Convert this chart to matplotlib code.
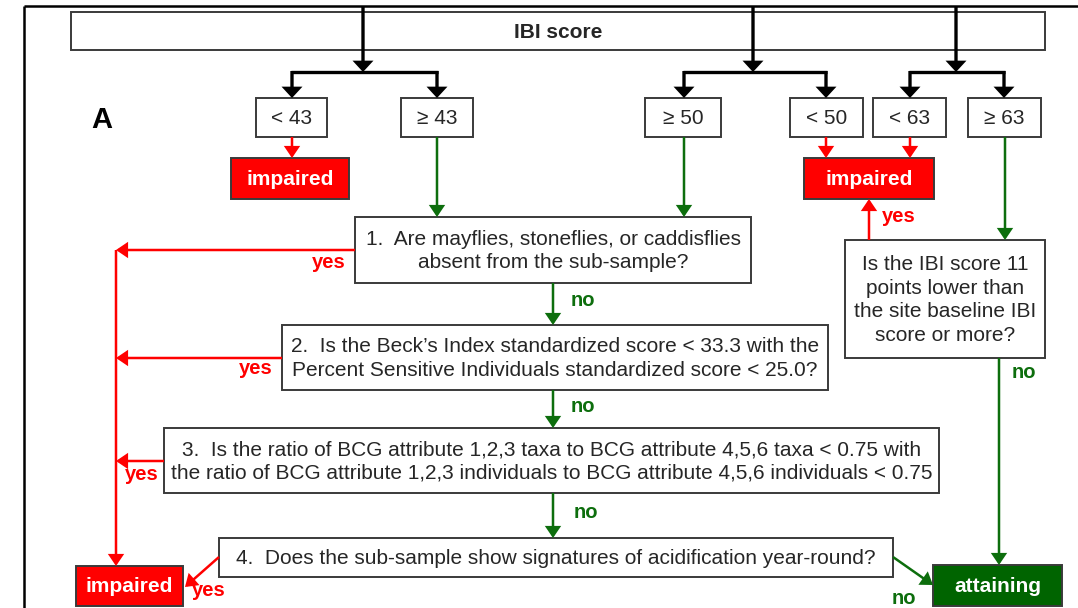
import matplotlib
matplotlib.use("Agg")
import matplotlib.pyplot as plt
from matplotlib.patches import Rectangle, FancyArrowPatch

plt.rcParams['font.family'] = ['Liberation Sans', 'DejaVu Sans']

# text content
title = "IBI score"
panel = "A"
thresholds = ["< 43", "\u2265 43", "\u2265 50", "< 50", "< 63", "\u2265 63"]
questions = [
    "1.  Are mayflies, stoneflies, or caddisflies\nabsent from the sub-sample?",
    "2.  Is the Beck\u2019s Index standardized score < 33.3 with the\n"
    "Percent Sensitive Individuals standardized score < 25.0?",
    "3.  Is the ratio of BCG attribute 1,2,3 taxa to BCG attribute 4,5,6 taxa < 0.75 with\n"
    "the ratio of BCG attribute 1,2,3 individuals to BCG attribute 4,5,6 individuals < 0.75",
    "4.  Does the sub-sample show signatures of acidification year-round?",
    "Is the IBI score 11\npoints lower than\nthe site baseline IBI\nscore or more?",
]
outcomes = ["impaired", "attaining"]
answers = ["yes", "no"]

RED = '#ff0000'
GREEN = '#0d6e0d'
DKGREEN = '#006400'
TXT = '#262626'
EDGE = '#3a3a3a'
FS = 15

# layout in pixel units (x0, y0, x1, y1)
title_box = (71, 12, 1045, 50)
thr_boxes = [(256, 98, 327, 137), (401, 98, 473, 137), (645, 98, 721, 137),
             (790, 98, 863, 137), (873, 98, 946, 137), (968, 98, 1041, 137)]
q_boxes = [(355, 217, 751, 283), (282, 325, 828, 390), (164, 428, 939, 493),
           (219, 538, 893, 577), (845, 240, 1045, 358)]
imp_boxes = [(231, 158, 349, 199), (804, 158, 934, 199), (76, 566, 183, 606)]
att_box = (933, 565, 1062, 606)

fig = plt.figure(figsize=(10.78, 6.08), dpi=100)
ax = fig.add_axes([0, 0, 1, 1])
ax.set_xlim(0, 1078)
ax.set_ylim(608, 0)
ax.axis('off')


def box(b, text, fc='none', tc=TXT, bold=False, z=2):
    x0, y0, x1, y1 = b
    ax.add_patch(Rectangle((x0, y0), x1 - x0, y1 - y0, fc=fc, ec=EDGE, lw=1.4, zorder=z))
    ax.text((x0 + x1) / 2, (y0 + y1) / 2 + 1, text, ha='center', va='center',
            fontsize=FS, color=tc, fontweight='bold' if bold else 'normal',
            linespacing=1.32, zorder=z + 1)


def arrow(p0, p1, color, lw=1.8, hl=0.62, hw=0.42):
    a = FancyArrowPatch(p0, p1, arrowstyle=f'-|>,head_length={hl},head_width={hw}',
                        mutation_scale=10, color=color, lw=lw, shrinkA=0, shrinkB=0,
                        joinstyle='miter', capstyle='butt', zorder=4)
    ax.add_patch(a)


def line(xs, ys, color, lw=1.8):
    ax.plot(xs, ys, color=color, lw=lw, solid_capstyle='butt', zorder=4)


def label(x, y, s, color, ha='left'):
    ax.text(x, y, s, color=color, fontsize=FS - 0.5, fontweight='bold', ha=ha, va='center', zorder=5)


# outer frame
line([24, 24], [6, 608], 'black', 1.8)
line([24, 1078], [6, 6], 'black', 1.8)

# title and panel letter
box(title_box, title, bold=True)
ax.text(102, 120, panel, fontsize=21, fontweight='bold', ha='center', va='center', color='black')

# black trunks and branches
trunks = [363, 753, 956]
branches = [(292, 437), (684, 826), (910, 1004)]
for tx, (bl, br) in zip(trunks, branches):
    arrow((tx, 6), (tx, 72), 'black', lw=2.4, hl=0.52, hw=0.48)
    line([bl - 1, br + 1], [72, 72], 'black', 2.4)
    for bx in (bl, br):
        arrow((bx, 71), (bx, 98), 'black', lw=2.4, hl=0.52, hw=0.48)

for b, t in zip(thr_boxes, thresholds):
    box(b, t)

for b in imp_boxes:
    box(b, outcomes[0], fc=RED, tc='white', bold=True)
box(att_box, outcomes[1], fc=DKGREEN, tc='white', bold=True)

for b, t in zip(q_boxes, questions):
    box(b, t)

# red arrows to impaired (top)
arrow((292, 137), (292, 158), RED)
arrow((826, 137), (826, 158), RED)
arrow((910, 137), (910, 158), RED)
arrow((869, 240), (869, 199), RED)
label(882, 217, answers[0], RED)

# green arrows into question 1 and right box
arrow((437, 137), (437, 217), GREEN)
arrow((684, 137), (684, 217), GREEN)
arrow((1005, 137), (1005, 240), GREEN)

# left red collector
arrow((355, 250), (116, 250), RED)
arrow((282, 358), (116, 358), RED)
arrow((164, 461), (116, 461), RED)
arrow((116, 250), (116, 566), RED)
label(346, 263, answers[0], RED, ha='right')
label(273, 368, answers[0], RED, ha='right')
label(142, 475, answers[0], RED, ha='center')

# question 4 -> impaired
arrow((219, 557), (185, 587), RED)
label(192, 591, answers[0], RED)

# green "no" chain
arrow((553, 283), (553, 325), GREEN)
arrow((553, 390), (553, 428), GREEN)
arrow((553, 493), (553, 538), GREEN)
label(571, 300, answers[1], GREEN)
label(571, 406, answers[1], GREEN)
label(574, 513, answers[1], GREEN)

# right column to attaining
arrow((999, 358), (999, 565), GREEN)
label(1012, 373, answers[1], GREEN)
arrow((893, 557), (933, 585), GREEN)
label(904, 598, answers[1], GREEN, ha='center')

fig.savefig('out.png', dpi=100)
